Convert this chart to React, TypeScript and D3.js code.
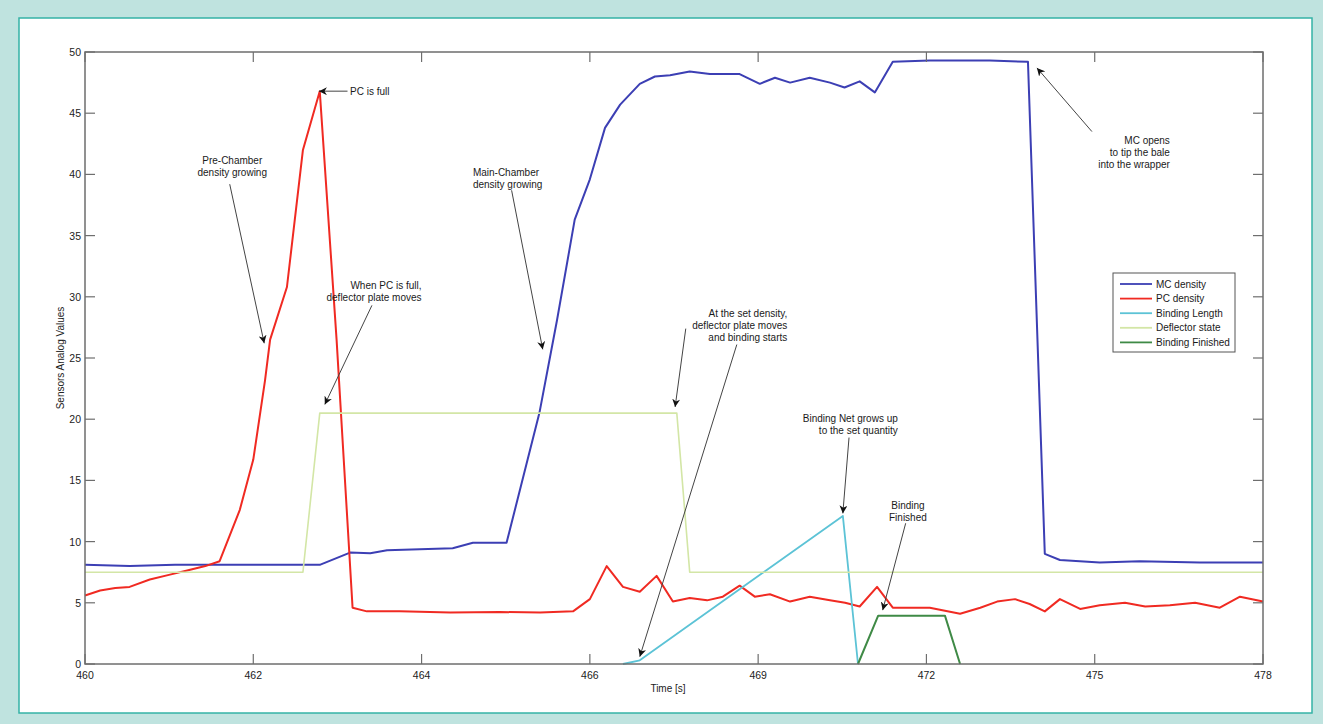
import React from "react";
import * as d3 from "d3";

// ---------- data ----------
const tickTimes = [460, 462, 464, 466, 469, 472, 475, 478];
const yTicks = [0, 5, 10, 15, 20, 25, 30, 35, 40, 45, 50];

const mcDensity: [number, number][] = [
  [460.0, 8.1], [460.53, 8.0], [461.07, 8.1], [461.84, 8.1], [462.56, 8.1], [462.79, 8.1],
  [463.15, 9.1], [463.39, 9.05], [463.59, 9.3], [464.37, 9.45], [464.61, 9.9], [465.01, 9.9],
  [465.4, 20.5], [465.61, 28.1], [465.82, 36.3], [466.0, 39.6], [466.27, 43.8], [466.54, 45.7],
  [466.89, 47.4], [467.16, 48.0], [467.43, 48.1], [467.78, 48.4], [468.14, 48.2], [468.67, 48.2],
  [469.03, 47.4], [469.3, 47.9], [469.57, 47.5], [469.92, 47.9], [470.28, 47.5], [470.54, 47.1],
  [470.81, 47.6], [471.08, 46.7], [471.4, 49.2], [472.06, 49.3], [473.13, 49.3], [473.81, 49.2],
  [474.11, 9.0], [474.38, 8.5], [475.09, 8.3], [475.8, 8.4], [476.87, 8.3], [478.0, 8.3],
];

const pcDensity: [number, number][] = [
  [460.0, 5.6], [460.18, 6.0], [460.36, 6.2], [460.53, 6.3], [460.77, 6.9], [461.01, 7.3],
  [461.25, 7.7], [461.43, 8.0], [461.6, 8.4], [461.84, 12.6], [462.0, 16.7], [462.14, 23.2],
  [462.2, 26.5], [462.4, 30.8], [462.59, 42.0], [462.79, 46.8], [462.99, 26.5], [463.18, 4.6],
  [463.35, 4.3], [463.74, 4.3], [464.34, 4.2], [464.93, 4.25], [465.41, 4.2], [465.8, 4.3],
  [466.0, 5.3], [466.3, 8.0], [466.59, 6.3], [466.89, 5.9], [467.19, 7.2], [467.48, 5.1],
  [467.78, 5.4], [468.09, 5.2], [468.37, 5.5], [468.67, 6.4], [468.94, 5.5], [469.21, 5.7],
  [469.57, 5.1], [469.92, 5.5], [470.28, 5.2], [470.55, 5.0], [470.81, 4.7], [471.12, 6.3],
  [471.4, 4.6], [472.06, 4.6], [472.6, 4.1], [472.96, 4.6], [473.26, 5.1], [473.58, 5.3],
  [473.84, 4.9], [474.11, 4.3], [474.38, 5.3], [474.74, 4.5], [475.09, 4.8], [475.54, 5.0],
  [475.9, 4.7], [476.34, 4.8], [476.79, 5.0], [477.23, 4.6], [477.59, 5.5], [478.0, 5.1],
];

const bindingLength: [number, number][] = [
  [466.59, 0], [466.89, 0.3], [470.51, 12.1], [470.78, 0],
];

const deflectorState: [number, number][] = [
  [460, 7.5], [462.59, 7.5], [462.79, 20.5], [467.55, 20.5], [467.78, 7.5], [478, 7.5],
];

const bindingFinished: [number, number][] = [
  [470.78, 0], [471.14, 3.95], [472.33, 3.95], [472.6, 0],
];

const seriesNames = ["MC density", "PC density", "Binding Length", "Deflector state", "Binding Finished"];
const seriesColors = ["#3c3fb4", "#f02a22", "#5cc3d6", "#d3e6a6", "#3f8a46"];
const seriesData = [mcDensity, pcDensity, bindingLength, deflectorState, bindingFinished];
const seriesWidths = [2, 2, 1.8, 1.6, 2];

// annotations: text lines, anchor, text position (time,value), arrows [tail, tip]
type Ann = { lines: string[]; anchor: "start" | "middle" | "end"; at: [number, number]; arrows: [[number, number], [number, number]][] };
const annotations: Ann[] = [
  { lines: ["PC is full"], anchor: "start", at: [463.15, 46.8], arrows: [[[463.12, 46.8], [462.78, 46.8]]] },
  { lines: ["Pre-Chamber", "density growing"], anchor: "middle", at: [461.75, 41.2], arrows: [[[461.72, 39.2], [462.13, 26.2]]] },
  { lines: ["When PC is full,", "deflector plate moves"], anchor: "end", at: [464.0, 31.0], arrows: [[[463.41, 29.3], [462.85, 21.2]]] },
  { lines: ["Main-Chamber", "density growing"], anchor: "start", at: [464.61, 40.2], arrows: [[[465.07, 38.7], [465.44, 25.7]]] },
  {
    lines: ["At the set density,", "deflector plate moves", "and binding starts"], anchor: "end", at: [469.52, 28.7],
    arrows: [[[467.71, 27.4], [467.52, 21.0]], [[468.62, 26.1], [466.89, 0.6]]],
  },
  { lines: ["Binding Net grows up", "to the set quantity"], anchor: "end", at: [471.49, 20.1], arrows: [[[470.62, 18.5], [470.51, 12.3]]] },
  { lines: ["Binding", "Finished"], anchor: "middle", at: [471.67, 13.0], arrows: [[[471.63, 11.5], [471.22, 4.4]]] },
  { lines: ["MC opens", "to tip the bale", "into the wrapper"], anchor: "end", at: [476.34, 42.8], arrows: [[[474.95, 43.5], [473.97, 48.7]]] },
];

// ---------- layout ----------
const W = 1323, H = 724;
const left = 85, right = 1263, top = 52, bottom = 664;
const FONT = "'Liberation Sans', Arial, Helvetica, sans-serif";

export default function App() {
  const x = d3.scaleLinear()
    .domain(tickTimes)
    .range(tickTimes.map((_, i) => left + (i * (right - left)) / (tickTimes.length - 1)));
  const y = d3.scaleLinear().domain([0, 50]).range([bottom, top]);
  const line = d3.line<[number, number]>().x((d) => x(d[0])).y((d) => y(d[1]));
  const tickLen = 10;
  const axisColor = "#6e6e6e";
  const lineH = 12;

  const legX = 1113, legY = 273, legW = 122, legH = 79;

  return (
    <div style={{ position: "absolute", left: 0, top: 0 }}>
      <svg width={W} height={H} style={{ display: "block" }} fontFamily={FONT}>
        <defs>
          <marker id="ah" viewBox="0 0 10 10" refX="10" refY="5" markerWidth="8" markerHeight="8" orient="auto" markerUnits="userSpaceOnUse">
            <path d="M0,0 L10,5 L0,10 L3,5 z" fill="#111" />
          </marker>
        </defs>
        <rect x={0} y={0} width={W} height={H} fill="#bfe3df" />
        <rect x={19} y={18} width={1293} height={695} fill="#fff" stroke="#35b3a6" strokeWidth={1.5} />

        {/* series */}
        {seriesData.map((d, i) => (
          <path key={i} d={line(d) || ""} fill="none" stroke={seriesColors[i]} strokeWidth={seriesWidths[i]} strokeLinejoin="round" />
        ))}

        {/* axes box */}
        <rect x={left} y={top} width={right - left} height={bottom - top} fill="none" stroke={axisColor} strokeWidth={1.5} />
        {tickTimes.map((t, i) => (
          <g key={"xt" + i}>
            <line x1={x(t)} x2={x(t)} y1={bottom} y2={bottom - tickLen} stroke={axisColor} strokeWidth={1.2} />
            <line x1={x(t)} x2={x(t)} y1={top} y2={top + tickLen} stroke={axisColor} strokeWidth={1.2} />
            <text x={x(t)} y={bottom + 15} textAnchor="middle" fontSize={10.5} fill="#222">{t}</text>
          </g>
        ))}
        {yTicks.map((v, i) => (
          <g key={"yt" + i}>
            <line x1={left} x2={left + tickLen} y1={y(v)} y2={y(v)} stroke={axisColor} strokeWidth={1.2} />
            <line x1={right} x2={right - tickLen} y1={y(v)} y2={y(v)} stroke={axisColor} strokeWidth={1.2} />
            <text x={left - 4} y={y(v) + 4} textAnchor="end" fontSize={10.5} fill="#222">{v}</text>
          </g>
        ))}
        <text x={(x(466) + x(469)) / 2 - 6} y={692} textAnchor="middle" fontSize={10} fill="#222">Time [s]</text>
        <text transform={`translate(64,${(top + bottom) / 2}) rotate(-90)`} textAnchor="middle" fontSize={10} fill="#222">Sensors Analog Values</text>

        {/* annotations */}
        {annotations.map((a, i) => (
          <g key={"an" + i}>
            {a.arrows.map((ar, j) => (
              <line key={j} x1={x(ar[0][0])} y1={y(ar[0][1])} x2={x(ar[1][0])} y2={y(ar[1][1])} stroke="#444" strokeWidth={1} markerEnd="url(#ah)" />
            ))}
            {a.lines.map((s, k) => (
              <text key={k} x={x(a.at[0])} y={y(a.at[1]) + 4 + k * lineH} textAnchor={a.anchor} fontSize={10} fill="#1a1a1a">{s}</text>
            ))}
          </g>
        ))}

        {/* legend */}
        <rect x={legX} y={legY} width={legW} height={legH} fill="#fff" stroke="#555" strokeWidth={1} />
        {seriesNames.map((n, i) => {
          const ly = legY + 11 + i * 14.6;
          return (
            <g key={"lg" + i}>
              <line x1={legX + 7} x2={legX + 39} y1={ly} y2={ly} stroke={seriesColors[i]} strokeWidth={1.8} />
              <text x={legX + 43} y={ly + 3.5} fontSize={10} fill="#1a1a1a">{n}</text>
            </g>
          );
        })}
      </svg>
    </div>
  );
}
